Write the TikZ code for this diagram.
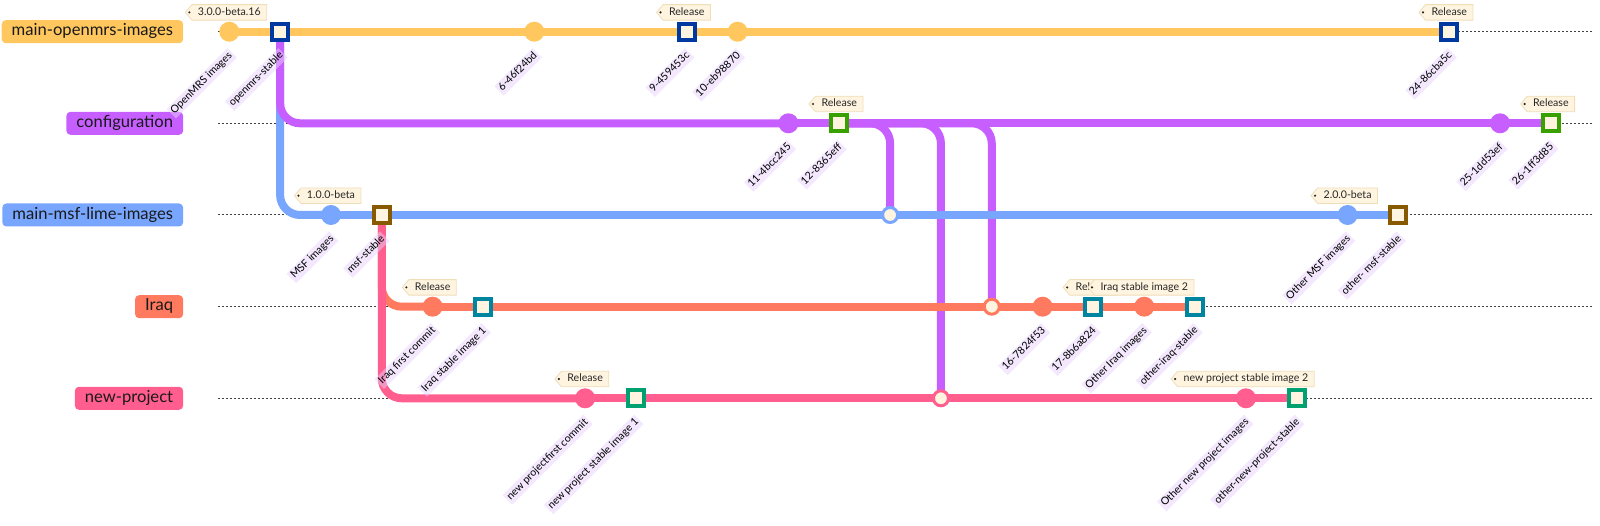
\documentclass[tikz,border=0pt]{standalone}
\usepackage{fontspec}
\setmainfont{Lato}
\usetikzlibrary{shapes.symbols,calc}
\pgfdeclarelayer{lanes}
\pgfdeclarelayer{lines}
\pgfsetlayers{lanes,lines,main}
\definecolor{mainC}{RGB}{255,199,94}
\definecolor{confC}{RGB}{199,94,255}
\definecolor{msfC}{RGB}{120,166,255}
\definecolor{iraqC}{RGB}{255,122,94}
\definecolor{npC}{RGB}{255,94,142}
\definecolor{mainH}{RGB}{0,56,161}
\definecolor{confH}{RGB}{56,161,0}
\definecolor{msfH}{RGB}{135,89,0}
\definecolor{iraqH}{RGB}{0,133,161}
\definecolor{npH}{RGB}{0,161,113}
\definecolor{cream}{RGB}{255,244,224}
\definecolor{tagdraw}{RGB}{238,222,185}
\definecolor{lblbg}{RGB}{231,209,251}
\newcommand\gxpos[1]{229.3+50.83*#1}
\begin{document}
\begin{tikzpicture}[x=1pt,y=-1pt,
  blabel/.style={anchor=east, rounded corners=4pt, minimum height=23pt, inner xsep=10pt, inner ysep=0pt,
    text=black!90, font=\fontsize{16.6}{20}\selectfont, text height=12pt, text depth=3.8pt},
  lane/.style={black!75, line width=1pt, dash pattern=on 2pt off 2pt},
  ln/.style={line width=8pt, draw=#1},
  curved/.style={rounded corners=20pt},
  cm/.style={circle, fill=#1, minimum size=20pt, inner sep=0pt},
  hl/.style={rectangle, fill=cream, draw=#1, line width=4pt, minimum size=16pt, inner sep=0pt},
  mg/.style={circle, fill=cream, draw=#1, line width=3pt, minimum size=15pt, inner sep=0pt},
  clabel/.style={anchor=east, rotate=45, fill=lblbg, fill opacity=0.5, text opacity=1, text=black,
    inner xsep=2pt, inner ysep=1.5pt, text height=7.8pt, text depth=2.6pt, font=\fontsize{10.5}{12}\selectfont},
  tag/.style={signal, signal to=west, signal pointer angle=100, fill=cream, draw=tagdraw, line width=0.8pt,
    inner xsep=6pt, inner ysep=0pt, minimum height=15.5pt, text=black!85, text height=7.5pt, text depth=2pt,
    font=\fontsize{10.6}{12}\selectfont},
  tagdot/.style={fill=black!85},
]
\useasboundingbox (0,0) rectangle (1600,526);

% branch labels
\node[blabel, fill=mainC] (bmain) at (183.3,31.7) {main-openmrs-images};
\node[blabel, fill=confC] (bconf) at (183.3,123.3) {configuration};
\node[blabel, fill=msfC] (bmsf) at (183.3,215) {main-msf-lime-images};
\node[blabel, fill=iraqC] (biraq) at (183.3,306.7) {Iraq};
\node[blabel, fill=npC] (bnp) at (183.3,398.3) {new-project};

% lane lines
\coordinate (ls0) at (218.3,31.7);  \coordinate (le0) at (1592,31.7);
\coordinate (ls1) at (218.3,123.3); \coordinate (le1) at (1592,123.3);
\coordinate (ls2) at (218.3,215);   \coordinate (le2) at (1592,215);
\coordinate (ls3) at (218.3,306.7); \coordinate (le3) at (1592,306.7);
\coordinate (ls4) at (218.3,398.3); \coordinate (le4) at (1592,398.3);
\begin{pgfonlayer}{lanes}
\foreach \i in {0,...,4} { \draw[lane] (ls\i) -- (le\i); }
\end{pgfonlayer}

% commits
\node[cm=mainC] (c0) at (\gxpos{0},31.7) {};
\node[hl=mainH] (c1) at (\gxpos{1},31.7) {};
\node[cm=msfC] (c2) at (\gxpos{2},215) {};
\node[hl=msfH] (c3) at (\gxpos{3},215) {};
\node[cm=iraqC] (c4) at (\gxpos{4},306.7) {};
\node[hl=iraqH] (c5) at (\gxpos{5},306.7) {};
\node[cm=mainC] (c6) at (\gxpos{6},31.7) {};
\node[cm=npC] (c7) at (\gxpos{7},398.3) {};
\node[hl=npH] (c8) at (\gxpos{8},398.3) {};
\node[hl=mainH] (c9) at (\gxpos{9},31.7) {};
\node[cm=mainC] (c10) at (\gxpos{10},31.7) {};
\node[cm=confC] (c11) at (\gxpos{11},123.3) {};
\node[hl=confH] (c12) at (\gxpos{12},123.3) {};
\node[mg=msfC] (c13) at (\gxpos{13},215) {};
\node[mg=npC] (c14) at (\gxpos{14},398.3) {};
\node[mg=iraqC] (c15) at (\gxpos{15},306.7) {};
\node[cm=iraqC] (c16) at (\gxpos{16},306.7) {};
\node[hl=iraqH] (c17) at (\gxpos{17},306.7) {};
\node[cm=iraqC] (c18) at (\gxpos{18},306.7) {};
\node[hl=iraqH] (c19) at (\gxpos{19},306.7) {};
\node[cm=npC] (c20) at (\gxpos{20},398.3) {};
\node[hl=npH] (c21) at (\gxpos{21},398.3) {};
\node[cm=msfC] (c22) at (\gxpos{22},215) {};
\node[hl=msfH] (c23) at (\gxpos{23},215) {};
\node[hl=mainH] (c24) at (\gxpos{24},31.7) {};
\node[cm=confC] (c25) at (\gxpos{25},123.3) {};
\node[hl=confH] (c26) at (\gxpos{26},123.3) {};

% connectors (in commit order)
\begin{pgfonlayer}{lines}
\draw[ln=mainC] (c0.center) -- (c1.center);
\draw[ln=msfC, curved] (c1.center) |- (c2.center);
\draw[ln=msfC] (c2.center) -- (c3.center);
\draw[ln=iraqC, curved] (c3.center) |- (c4.center);
\draw[ln=iraqC] (c4.center) -- (c5.center);
\draw[ln=mainC] (c1.center) -- (c6.center);
\draw[ln=npC, curved] (c3.center) |- (c7.center);
\draw[ln=npC] (c7.center) -- (c8.center);
\draw[ln=mainC] (c6.center) -- (c9.center);
\draw[ln=mainC] (c9.center) -- (c10.center);
\draw[ln=confC, curved] (c1.center) |- (c11.center);
\draw[ln=confC] (c11.center) -- (c12.center);
\draw[ln=msfC] (c3.center) -- (c13.center);
\draw[ln=confC, curved] (c12.center) -| (c13.center);
\draw[ln=npC] (c8.center) -- (c14.center);
\draw[ln=confC, curved] (c12.center) -| (c14.center);
\draw[ln=iraqC] (c5.center) -- (c15.center);
\draw[ln=confC, curved] (c12.center) -| (c15.center);
\draw[ln=iraqC] (c15.center) -- (c16.center);
\draw[ln=iraqC] (c16.center) -- (c17.center);
\draw[ln=iraqC] (c17.center) -- (c18.center);
\draw[ln=iraqC] (c18.center) -- (c19.center);
\draw[ln=npC] (c14.center) -- (c20.center);
\draw[ln=npC] (c20.center) -- (c21.center);
\draw[ln=msfC] (c13.center) -- (c22.center);
\draw[ln=msfC] (c22.center) -- (c23.center);
\draw[ln=mainC] (c10.center) -- (c24.center);
\draw[ln=confC] (c12.center) -- (c25.center);
\draw[ln=confC] (c25.center) -- (c26.center);
\end{pgfonlayer}

% commit labels
\node[clabel] (l0) at ($(c0.center)+(3,21)$) {OpenMRS images};
\node[clabel] (l1) at ($(c1.center)+(3,21)$) {openmrs-stable};
\node[clabel] (l2) at ($(c2.center)+(3,21)$) {MSF images};
\node[clabel] (l3) at ($(c3.center)+(3,21)$) {msf-stable};
\node[clabel] (l4) at ($(c4.center)+(3,21)$) {Iraq first commit};
\node[clabel] (l5) at ($(c5.center)+(3,21)$) {Iraq stable image 1};
\node[clabel] (l6) at ($(c6.center)+(3,21)$) {6-46f24bd};
\node[clabel] (l7) at ($(c7.center)+(3,21)$) {new projectfirst commit};
\node[clabel] (l8) at ($(c8.center)+(3,21)$) {new project stable image 1};
\node[clabel] (l9) at ($(c9.center)+(3,21)$) {9-459453c};
\node[clabel] (l10) at ($(c10.center)+(3,21)$) {10-eb98870};
\node[clabel] (l11) at ($(c11.center)+(3,21)$) {11-4bcc245};
\node[clabel] (l12) at ($(c12.center)+(3,21)$) {12-8365eff};
\node[clabel] (l16) at ($(c16.center)+(3,21)$) {16-7824f53};
\node[clabel] (l17) at ($(c17.center)+(3,21)$) {17-8b6a824};
\node[clabel] (l18) at ($(c18.center)+(3,21)$) {Other Iraq images};
\node[clabel] (l19) at ($(c19.center)+(3,21)$) {other-iraq-stable};
\node[clabel] (l20) at ($(c20.center)+(3,21)$) {Other new project images};
\node[clabel] (l21) at ($(c21.center)+(3,21)$) {other-new-project-stable};
\node[clabel] (l22) at ($(c22.center)+(3,21)$) {Other MSF images};
\node[clabel] (l23) at ($(c23.center)+(3,21)$) {other- msf-stable};
\node[clabel] (l24) at ($(c24.center)+(3,21)$) {24-86cba5c};
\node[clabel] (l25) at ($(c25.center)+(3,21)$) {25-1dd53ef};
\node[clabel] (l26) at ($(c26.center)+(3,21)$) {26-1ff3d85};

% tags
\newcommand\gittag[3]{%
  \node[tag] (#1) at ($(#2.center)+(0,-19.3)$) {#3};
  \fill[tagdot] ($(#1.west)+(4.5,0)$) circle (1.2pt);}
\gittag{t0}{c0}{3.0.0-beta.16}
\gittag{t2}{c2}{1.0.0-beta}
\gittag{t4}{c4}{Release}
\gittag{t7}{c7}{Release}
\gittag{t9}{c9}{Release}
\gittag{t12}{c12}{Release}
\gittag{t17}{c17}{Release}
\gittag{t18}{c18}{Iraq stable image 2}
\gittag{t20}{c20}{new project stable image 2}
\gittag{t22}{c22}{2.0.0-beta}
\gittag{t24}{c24}{Release}
\gittag{t26}{c26}{Release}
\end{tikzpicture}
\end{document}
